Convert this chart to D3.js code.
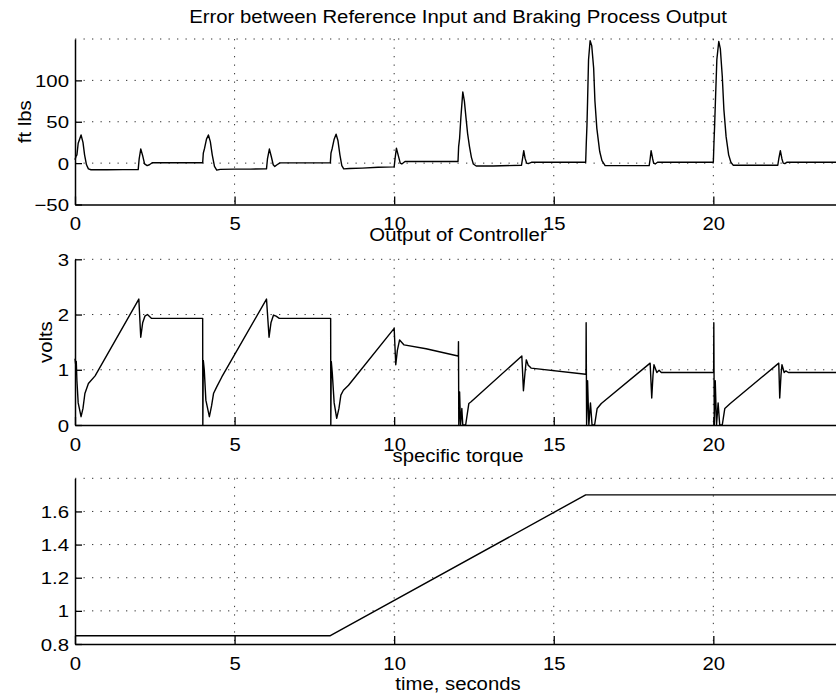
<!DOCTYPE html>
<html>
<head>
<meta charset="utf-8">
<script src="https://cdn.jsdelivr.net/npm/d3@7"></script>
<style>
  html, body { margin: 0; padding: 0; background: #fff; overflow: hidden; }
  svg { display: block; }
  text { font-family: "Liberation Sans", Arial, Helvetica, sans-serif; fill: #000; }
</style>
</head>
<body>
<svg id="chart" width="836" height="698"></svg>
<script>
// ---------- data ----------
const xTicks = [0, 5, 10, 15, 20];

const errTicks = [-50, 0, 50, 100];
const errT = [0, 0.03, 0.06, 0.1, 0.19, 0.25, 0.3, 0.36, 0.42, 0.5, 1.0, 1.5, 1.98, 2.01, 2.06, 2.12, 2.18, 2.26, 2.33, 2.42, 3.0, 3.99,
  4.0, 4.02, 4.06, 4.12, 4.18, 4.24, 4.3, 4.37, 4.44, 4.55, 5.0, 5.5, 6.0, 6.03, 6.09, 6.15, 6.21, 6.26, 6.33, 6.42, 7.0, 7.99,
  8.0, 8.02, 8.06, 8.12, 8.18, 8.24, 8.3, 8.36, 8.42, 8.6, 9.0, 9.5, 10.0, 10.03, 10.07, 10.13, 10.19, 10.24, 10.34, 11.0, 11.99,
  12.0, 12.02, 12.05, 12.09, 12.15, 12.2, 12.25, 12.3, 12.36, 12.42, 12.48, 12.57, 13.1, 13.99, 14.02, 14.06, 14.1, 14.15, 14.2, 14.3, 15.0, 15.99,
  16.0, 16.02, 16.04, 16.06, 16.09, 16.14, 16.19, 16.25, 16.29, 16.35, 16.44, 16.51, 16.61, 17.0, 17.99, 18.02, 18.05, 18.1, 18.13, 18.18, 18.25, 19.0, 19.99,
  20.0, 20.02, 20.04, 20.07, 20.11, 20.17, 20.22, 20.28, 20.33, 20.4, 20.48, 20.55, 20.62, 21.0, 22.02, 22.05, 22.1, 22.15, 22.19, 22.24, 22.3, 23.0, 24.0];
const errV = [4, 8, 10, 24, 34, 25, 10, -2, -7, -8, -8, -7.8, -7.8, 5, 17, 9, -1, -3, -2, 0.5, 0.5, 0.5,
  0.5, 12, 18, 29, 34, 26, 10, -4, -8.5, -7.5, -7.3, -7.2, -7, 5, 17, 8, -2, -4, -2, 0.3, 0.3, 0.3,
  0.3, 12, 18, 29, 35, 27, 10, -3, -7, -6.5, -6, -5, -4.5, 6, 18, 9, 0, -1, 2, 2, 2,
  2, 20, 30, 55, 86, 75, 55, 36, 20, 7, -1, -3.5, -3.5, -2.5, 5, 15, 6, 0, -0.5, 1, 1, 1,
  1, 25, 45, 75, 125, 148, 142, 115, 75, 42, 14, 3, -3, -3, -3, 5, 15, 5, 0, -1, 1, 1, 1,
  1, 25, 45, 80, 125, 147, 138, 105, 65, 32, 10, 1, -2.5, -2.5, -2.5, 5, 15, 5, 0, -0.5, 1, 1, 1];

const ctrlTicks = [0, 1, 2, 3];
const ctrlT = [0, 0.02, 0.04, 0.06, 0.1, 0.19, 0.25, 0.31, 0.42, 0.63, 2.0, 2.06, 2.12, 2.19, 2.27, 2.4, 3.99,
  4.0, 4.005, 4.02, 4.05, 4.1, 4.21, 4.28, 4.34, 4.44, 4.6, 6.0, 6.08, 6.14, 6.22, 6.3, 6.4, 8.0,
  8.01, 8.015, 8.03, 8.06, 8.12, 8.2, 8.27, 8.33, 8.41, 8.57, 10.0, 10.05, 10.1, 10.17, 10.31, 11.0, 12.0,
  12.01, 12.015, 12.025, 12.05, 12.08, 12.12, 12.15, 12.24, 12.34, 12.41, 14.0, 14.05, 14.1, 14.14, 14.2, 14.29, 16.0,
  16.01, 16.015, 16.03, 16.06, 16.1, 16.15, 16.2, 16.28, 16.36, 16.49, 18.02, 18.07, 18.11, 18.14, 18.23, 18.3, 18.37, 20.0,
  20.01, 20.015, 20.03, 20.06, 20.1, 20.15, 20.2, 20.28, 20.36, 20.53, 22.05, 22.08, 22.12, 22.15, 22.22, 22.27, 22.35, 24.0];
const ctrlV = [1.2, 1.1, 1.15, 0.8, 0.4, 0.15, 0.3, 0.57, 0.75, 0.89, 2.28, 1.59, 1.85, 1.97, 2.0, 1.93, 1.93,
  1.93, 0, 1.17, 1.0, 0.45, 0.15, 0.35, 0.57, 0.69, 0.87, 2.28, 1.59, 1.85, 1.99, 1.97, 1.93, 1.93,
  1.93, 0, 1.15, 0.95, 0.4, 0.12, 0.3, 0.54, 0.63, 0.72, 1.75, 1.09, 1.35, 1.54, 1.45, 1.38, 1.25,
  1.25, 1.51, 0, 0.6, 0, 0.3, 0, 0, 0.39, 0.42, 1.25, 0.62, 0.95, 1.18, 1.08, 1.03, 0.92,
  0.92, 1.85, 0, 0.8, 0, 0.4, 0, 0, 0.3, 0.39, 1.12, 0.49, 0.9, 1.09, 0.95, 0.99, 0.95, 0.95,
  0.95, 1.85, 0, 0.8, 0, 0.4, 0, 0, 0.3, 0.39, 1.12, 0.49, 0.9, 1.09, 0.95, 0.98, 0.95, 0.95];

const torqueTicks = [0.8, 1, 1.2, 1.4, 1.6];
const torqueT = [0, 8, 16, 24];
const torqueV = [0.85, 0.85, 1.7, 1.7];

// ---------- layout ----------
const svg = d3.select("#chart");
const X0 = 75, X1 = 841;
const FONT = 18, STRETCH = 1.13;

const panels = [
  { title: "Error between Reference Input and Braking Process Output", titleY: 22.5,
    ylabel: "ft lbs", ylabelX: 25, top: 39, bottom: 204.5, domain: [-50, 150],
    ticks: errTicks, grid: [0, 50, 100, 150], t: errT, v: errV },
  { title: "Output of Controller", titleY: 241,
    ylabel: "volts", ylabelX: 46, top: 259.3, bottom: 425, domain: [0, 3],
    ticks: ctrlTicks, grid: [1, 2, 3], t: ctrlT, v: ctrlV },
  { title: "specific torque", titleY: 462,
    ylabel: null, top: 478.3, bottom: 644, domain: [0.8, 1.8],
    ticks: torqueTicks, grid: [1, 1.2, 1.4, 1.6, 1.8], t: torqueT, v: torqueV,
    xlabel: "time, seconds", xlabelY: 690 }
];

const x = d3.scaleLinear().domain([0, 24]).range([X0, X1]);
const cx = 458;

function stretchText(sel, tx, ty, sx) {
  sel.attr("transform", `translate(${tx},${ty}) scale(${sx},1)`);
}

panels.forEach(p => {
  const y = d3.scaleLinear().domain(p.domain).range([p.bottom, p.top]);
  const g = svg.append("g");

  // grid
  const dots = { stroke: "#333", "stroke-width": 1, "stroke-dasharray": "1.3,7.2" };
  g.selectAll(".hg").data(p.grid).join("line")
    .attr("x1", X0).attr("x2", X1)
    .attr("y1", d => y(d)).attr("y2", d => y(d))
    .attr("stroke", dots.stroke).attr("stroke-width", dots["stroke-width"])
    .attr("stroke-dasharray", dots["stroke-dasharray"]);
  g.selectAll(".vg").data(xTicks.filter(d => d > 0)).join("line")
    .attr("x1", d => x(d)).attr("x2", d => x(d))
    .attr("y1", p.top).attr("y2", p.bottom)
    .attr("stroke", dots.stroke).attr("stroke-width", dots["stroke-width"])
    .attr("stroke-dasharray", dots["stroke-dasharray"]);

  // x axis
  const xa = g.append("g").attr("transform", `translate(0,${p.bottom})`)
    .call(d3.axisBottom(x).tickValues(xTicks).tickSizeInner(-8).tickSizeOuter(0).tickFormat(d3.format("d")));
  xa.select(".domain").attr("stroke", "#000").attr("stroke-width", 1.5);
  xa.selectAll(".tick line").attr("stroke", "#000").attr("stroke-width", 1.3);
  xa.selectAll(".tick text").attr("y", null).attr("dy", null)
    .attr("font-size", FONT).attr("text-anchor", "middle")
    .attr("transform", `translate(0,25.5) scale(${STRETCH},1)`);

  // y axis
  const ya = g.append("g").attr("transform", `translate(${X0},0)`)
    .call(d3.axisLeft(y).tickValues(p.ticks).tickSizeInner(-7).tickSizeOuter(0)
      .tickFormat(d => d < 0 ? "\u2212" + Math.abs(d) : String(d)));
  ya.select(".domain").attr("stroke", "#000").attr("stroke-width", 1.5);
  ya.selectAll(".tick line").attr("stroke", "#000").attr("stroke-width", 1.3);
  ya.selectAll(".tick text").attr("x", null).attr("dy", null)
    .attr("font-size", 17).attr("text-anchor", "end")
    .attr("transform", `translate(-6,6) scale(1.2,1)`);

  // line
  const idx = d3.range(p.t.length);
  g.append("path")
    .attr("d", d3.line().x(i => x(p.t[i])).y(i => y(p.v[i]))(idx))
    .attr("fill", "none").attr("stroke", "#000").attr("stroke-width", 1.4)
    .attr("stroke-linejoin", "round");

  // title
  svg.append("text").text(p.title).attr("font-size", FONT).attr("text-anchor", "middle")
    .attr("transform", `translate(${cx},${p.titleY}) scale(${STRETCH},1)`);

  if (p.ylabel) {
    svg.append("text").text(p.ylabel).attr("font-size", FONT).attr("text-anchor", "middle")
      .attr("transform", `translate(${p.ylabelX + 6},${(p.top + p.bottom) / 2}) rotate(-90) scale(${STRETCH},1)`);
  }
  if (p.xlabel) {
    svg.append("text").text(p.xlabel).attr("font-size", FONT).attr("text-anchor", "middle")
      .attr("transform", `translate(${cx},${p.xlabelY}) scale(${STRETCH},1)`);
  }
});
</script>
</body>
</html>
